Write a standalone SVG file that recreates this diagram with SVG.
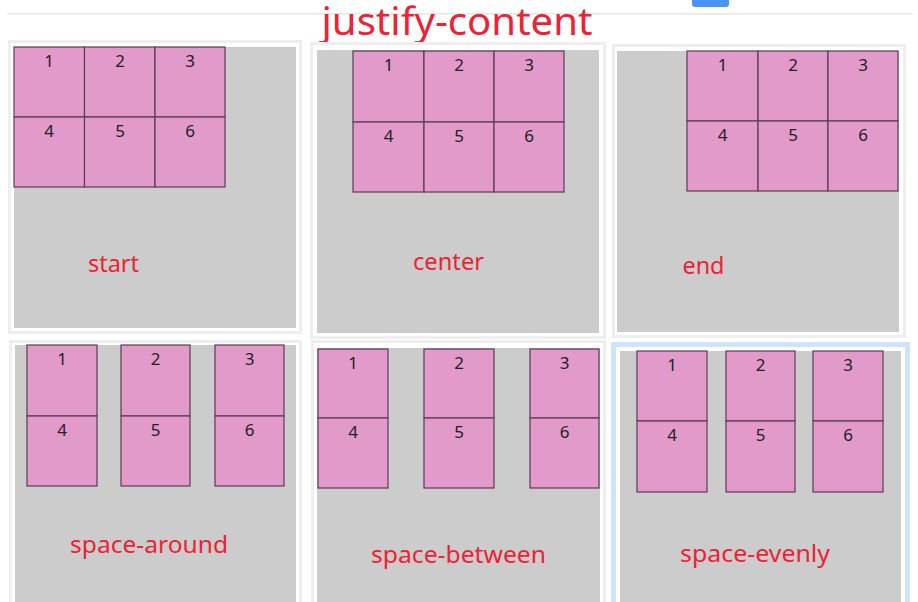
<svg xmlns="http://www.w3.org/2000/svg" width="918" height="602" viewBox="0 0 918 602">
<defs>
<style>
.halo{fill:none;stroke:#eeeeee;stroke-width:3}
.halo-blue{fill:none;stroke:#cfe3fb;stroke-width:5}
.frame{fill:#ffffff}
.inner{fill:#cccccc}
.box{fill:#e29acb;stroke:#5b3d52;stroke-width:1.2}
.num{font-family:"Noto Sans","Open Sans","DejaVu Sans",sans-serif;font-size:17px;fill:#222222;text-anchor:middle}
.label{font-family:"Noto Sans","Open Sans","DejaVu Sans",sans-serif;font-size:24px;fill:#ee2233;text-anchor:middle}
.title{font-family:"Noto Sans","Open Sans","DejaVu Sans",sans-serif;font-size:39px;fill:#ee2233;text-anchor:middle}
</style>
</defs>
<rect x="0" y="0" width="918" height="602" fill="#ffffff"/>
<rect x="7" y="13" width="906" height="1.5" fill="#e6e6e6"/>
<path d="M692 0 H729 V4 Q729 7 726 7 H695 Q692 7 692 4 Z" fill="#4a94f8"/>
<text class="title" x="457" y="35" textLength="271" lengthAdjust="spacingAndGlyphs">justify-content</text>

<g id="panel-start">
<rect class="halo" x="9.5" y="41.5" width="291" height="291"/>
<rect class="frame" x="11" y="43" width="288" height="288"/>
<rect class="inner" x="14" y="47" width="282" height="281"/>
<rect class="box" x="14" y="47" width="70.5" height="70"/>
<rect class="box" x="84.5" y="47" width="70.5" height="70"/>
<rect class="box" x="155" y="47" width="70" height="70"/>
<rect class="box" x="14" y="117" width="70.5" height="70"/>
<rect class="box" x="84.5" y="117" width="70.5" height="70"/>
<rect class="box" x="155" y="117" width="70" height="70"/>
<text class="num" x="49" y="67">1</text>
<text class="num" x="120" y="67">2</text>
<text class="num" x="190" y="67">3</text>
<text class="num" x="49" y="137">4</text>
<text class="num" x="120" y="137">5</text>
<text class="num" x="190" y="137">6</text>
<text class="label" x="113.5" y="272" textLength="51" lengthAdjust="spacingAndGlyphs">start</text>
</g>

<g id="panel-center">
<rect class="halo" x="311.5" y="43.5" width="293" height="294"/>
<rect class="frame" x="313" y="45" width="290" height="291"/>
<rect class="inner" x="317" y="50" width="282" height="283"/>
<rect class="box" x="353" y="51" width="71" height="71"/>
<rect class="box" x="424" y="51" width="70" height="71"/>
<rect class="box" x="494" y="51" width="70" height="71"/>
<rect class="box" x="353" y="122" width="71" height="70"/>
<rect class="box" x="424" y="122" width="70" height="70"/>
<rect class="box" x="494" y="122" width="70" height="70"/>
<text class="num" x="388.5" y="71">1</text>
<text class="num" x="459" y="71">2</text>
<text class="num" x="529" y="71">3</text>
<text class="num" x="388.5" y="142">4</text>
<text class="num" x="459" y="142">5</text>
<text class="num" x="529" y="142">6</text>
<text class="label" x="448.5" y="270" textLength="71" lengthAdjust="spacingAndGlyphs">center</text>
</g>

<g id="panel-end">
<rect class="halo" x="613.5" y="45.5" width="291" height="291"/>
<rect class="frame" x="615" y="47" width="288" height="288"/>
<rect class="inner" x="617" y="51" width="282" height="281"/>
<rect class="box" x="687" y="51" width="71" height="70"/>
<rect class="box" x="758" y="51" width="70" height="70"/>
<rect class="box" x="828" y="51" width="70" height="70"/>
<rect class="box" x="687" y="121" width="71" height="70"/>
<rect class="box" x="758" y="121" width="70" height="70"/>
<rect class="box" x="828" y="121" width="70" height="70"/>
<text class="num" x="722.5" y="71">1</text>
<text class="num" x="793" y="71">2</text>
<text class="num" x="863" y="71">3</text>
<text class="num" x="722.5" y="141">4</text>
<text class="num" x="793" y="141">5</text>
<text class="num" x="863" y="141">6</text>
<text class="label" x="703.5" y="274" textLength="42" lengthAdjust="spacingAndGlyphs">end</text>
</g>

<g id="panel-space-around">
<rect class="halo" x="10.5" y="341.5" width="290" height="270"/>
<rect class="frame" x="12" y="343" width="287" height="270"/>
<rect class="inner" x="15" y="345" width="281" height="270"/>
<rect class="box" x="27" y="345" width="70" height="71"/>
<rect class="box" x="121" y="345" width="69" height="71"/>
<rect class="box" x="215" y="345" width="69" height="71"/>
<rect class="box" x="27" y="416" width="70" height="70"/>
<rect class="box" x="121" y="416" width="69" height="70"/>
<rect class="box" x="215" y="416" width="69" height="70"/>
<text class="num" x="62" y="365">1</text>
<text class="num" x="155.5" y="365">2</text>
<text class="num" x="249.5" y="365">3</text>
<text class="num" x="62" y="436">4</text>
<text class="num" x="155.5" y="436">5</text>
<text class="num" x="249.5" y="436">6</text>
<text class="label" x="149" y="553" textLength="158" lengthAdjust="spacingAndGlyphs">space-around</text>
</g>

<g id="panel-space-between">
<rect class="halo" x="312.5" y="341.5" width="292" height="270"/>
<rect class="frame" x="314" y="343" width="289" height="270"/>
<rect class="inner" x="317" y="348" width="283" height="270"/>
<rect class="box" x="318" y="349" width="70" height="69"/>
<rect class="box" x="424" y="349" width="70" height="69"/>
<rect class="box" x="530" y="349" width="69" height="69"/>
<rect class="box" x="318" y="418" width="70" height="70"/>
<rect class="box" x="424" y="418" width="70" height="70"/>
<rect class="box" x="530" y="418" width="69" height="70"/>
<text class="num" x="353" y="369">1</text>
<text class="num" x="459" y="369">2</text>
<text class="num" x="564.5" y="369">3</text>
<text class="num" x="353" y="438">4</text>
<text class="num" x="459" y="438">5</text>
<text class="num" x="564.5" y="438">6</text>
<text class="label" x="458.5" y="563" textLength="175" lengthAdjust="spacingAndGlyphs">space-between</text>
</g>

<g id="panel-space-evenly">
<rect class="halo-blue" x="613.5" y="344.5" width="294" height="270"/>
<rect class="frame" x="616" y="347" width="289" height="270"/>
<rect class="inner" x="620" y="351" width="281" height="270"/>
<rect class="box" x="637" y="351" width="70" height="70"/>
<rect class="box" x="726" y="351" width="69" height="70"/>
<rect class="box" x="813" y="351" width="70" height="70"/>
<rect class="box" x="637" y="421" width="70" height="71"/>
<rect class="box" x="726" y="421" width="69" height="71"/>
<rect class="box" x="813" y="421" width="70" height="71"/>
<text class="num" x="672" y="371">1</text>
<text class="num" x="760.5" y="371">2</text>
<text class="num" x="848" y="371">3</text>
<text class="num" x="672" y="441">4</text>
<text class="num" x="760.5" y="441">5</text>
<text class="num" x="848" y="441">6</text>
<text class="label" x="755" y="562" textLength="150" lengthAdjust="spacingAndGlyphs">space-evenly</text>
</g>

<g id="connectors"></g>
</svg>
